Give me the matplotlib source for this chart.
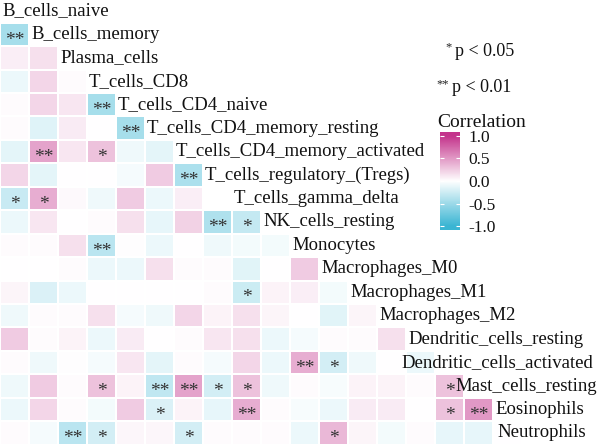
import numpy as np
import matplotlib.pyplot as plt
from matplotlib.colors import LinearSegmentedColormap, Normalize

# cell types, in plot order
cells = ["B_cells_naive", "B_cells_memory", "Plasma_cells", "T_cells_CD8",
         "T_cells_CD4_naive", "T_cells_CD4_memory_resting",
         "T_cells_CD4_memory_activated", "T_cells_regulatory_(Tregs)",
         "T_cells_gamma_delta", "NK_cells_resting", "Monocytes",
         "Macrophages_M0", "Macrophages_M1", "Macrophages_M2",
         "Dendritic_cells_resting", "Dendritic_cells_activated",
         "Mast_cells_resting", "Eosinophils", "Neutrophils"]

# lower triangle of the correlation matrix (row i, columns 0..i-1)
corr_rows = [
    [],
    [-0.45],
    [0.08, 0.15],
    [-0.10, 0.20, 0.02],
    [0.02, 0.20, 0.12, -0.45],
    [0.02, -0.16, 0.10, 0.00, -0.45],
    [-0.14, 0.45, 0.12, 0.30, -0.08, -0.14],
    [0.20, -0.14, 0.00, 0.00, -0.05, 0.25, -0.42],
    [-0.28, 0.40, 0.03, -0.08, 0.25, -0.10, 0.08],
    [-0.10, 0.12, 0.00, 0.02, 0.15, -0.12, 0.22, -0.40, -0.30],
    [0.02, 0.02, 0.15, -0.35, 0.01, -0.10, 0.00, -0.08, -0.06, -0.06],
    [0.00, 0.00, 0.02, -0.10, -0.10, 0.15, 0.02, 0.02, -0.15, 0.00, 0.25],
    [0.05, -0.18, -0.10, 0.00, 0.00, 0.00, 0.00, 0.02, -0.26, 0.06, 0.08, -0.06],
    [-0.08, 0.02, 0.02, 0.15, -0.05, -0.08, 0.20, 0.06, 0.15, 0.05, 0.00, -0.15, 0.05],
    [0.25, 0.02, 0.06, -0.10, 0.10, 0.00, 0.02, 0.12, 0.15, -0.10, -0.05, 0.02, 0.02, 0.15],
    [0.02, -0.08, 0.01, -0.05, 0.12, -0.14, 0.02, -0.05, 0.20, -0.10, 0.40, -0.22, -0.08, 0.00, -0.10],
    [-0.08, 0.25, 0.02, 0.30, 0.06, -0.32, 0.45, -0.22, 0.30, -0.08, 0.02, -0.04, 0.06, 0.06, 0.02, 0.30],
    [-0.10, 0.20, 0.02, -0.06, 0.25, -0.18, 0.06, -0.12, 0.40, 0.02, -0.04, -0.10, 0.10, 0.10, 0.00, 0.30, 0.50],
    [0.02, -0.05, -0.35, -0.22, 0.04, 0.04, -0.22, 0.02, 0.02, 0.02, -0.10, 0.35, 0.05, -0.06, 0.02, -0.12, -0.12, 0.00],
]

# significance marks (row, col, mark)
signif = [(1, 0, "**"), (4, 3, "**"), (5, 4, "**"), (6, 1, "**"), (6, 3, "*"),
          (7, 6, "**"), (8, 0, "*"), (8, 1, "*"), (9, 7, "**"), (9, 8, "*"),
          (10, 3, "**"), (12, 8, "*"), (15, 10, "**"), (15, 11, "*"),
          (16, 3, "*"), (16, 5, "**"), (16, 6, "**"), (16, 7, "*"), (16, 8, "*"),
          (16, 15, "*"), (17, 5, "*"), (17, 8, "**"), (17, 15, "*"), (17, 16, "**"),
          (18, 2, "**"), (18, 3, "*"), (18, 6, "*"), (18, 11, "*")]

cbar_ticks = [1.0, 0.5, 0.0, -0.5, -1.0]

# label nudges (in columns) for the rows that would run off the right edge
label_shift = {15: -1.21, 16: -0.35, 18: -0.93}

n = len(cells)
M = np.full((n, n), np.nan)
for i, row in enumerate(corr_rows):
    M[i, :len(row)] = row

cmap = LinearSegmentedColormap.from_list("corr", ["#3AB5D3", "#FFFFFF", "#C4348C"])
norm = Normalize(-1, 1)
font = "Liberation Serif"

W, H = 600, 448
CW, RH, Y0 = 29.0, 23.44, 11.0   # cell width, row height, first row centre (px)

fig = plt.figure(figsize=(W / 100, H / 100), dpi=100)
ax = fig.add_axes([0, 0, 1, 1])
ax.set_xlim(0, W / CW)
ax.set_ylim((H - Y0) / RH, -Y0 / RH)
ax.axis("off")

xe = np.arange(n + 1)
ye = np.arange(n + 1) - 0.5
ax.pcolormesh(xe, ye, np.ma.masked_invalid(M), cmap=cmap, norm=norm,
              edgecolors="white", linewidth=1.4)

for i, name in enumerate(cells):
    ax.text(i + 0.07 + label_shift.get(i, 0), i, name, fontsize=13.5, family=font,
            ha="left", va="center", color="#111111")

for i, j, s in signif:
    ax.text(j + 0.5, i + 0.24, s, fontsize=14, family=font, ha="center",
            va="center", color="#333333")

# p-value legend
def px(x, y):
    return x / W, 1 - y / H

fig.text(*px(452, 47), "*", fontsize=9, family=font, ha="right", va="center", color="#222222")
fig.text(*px(455, 51), "p < 0.05", fontsize=13, family=font, ha="left", va="center", color="#111111")
fig.text(*px(449, 84), "**", fontsize=9, family=font, ha="right", va="center", color="#222222")
fig.text(*px(452, 88), "p < 0.01", fontsize=13, family=font, ha="left", va="center", color="#111111")

# colorbar
fig.text(*px(437, 122), "Correlation", fontsize=14, family=font, ha="left", va="center", color="#111111")
cax = fig.add_axes([440 / W, 1 - 230 / H, 20 / W, 98 / H])
grad = np.linspace(1.08, -1.08, 256).reshape(-1, 1)
cax.imshow(grad, cmap=cmap, norm=norm, aspect="auto", extent=[0, 1, -1.08, 1.08])
cax.set_xlim(0, 1)
cax.set_ylim(-1.08, 1.08)
cax.hlines(cbar_ticks, 0, 0.2, color="white", linewidth=0.8)
cax.hlines(cbar_ticks, 0.8, 1, color="white", linewidth=0.8)
cax.set_xticks([])
cax.yaxis.tick_right()
cax.set_yticks(cbar_ticks)
cax.set_yticklabels(["%.1f" % t for t in cbar_ticks], family=font, fontsize=12.5, color="#111111")
cax.tick_params(axis="y", length=0, pad=6)
for sp in cax.spines.values():
    sp.set_visible(False)

fig.savefig("out.png", dpi=100)
